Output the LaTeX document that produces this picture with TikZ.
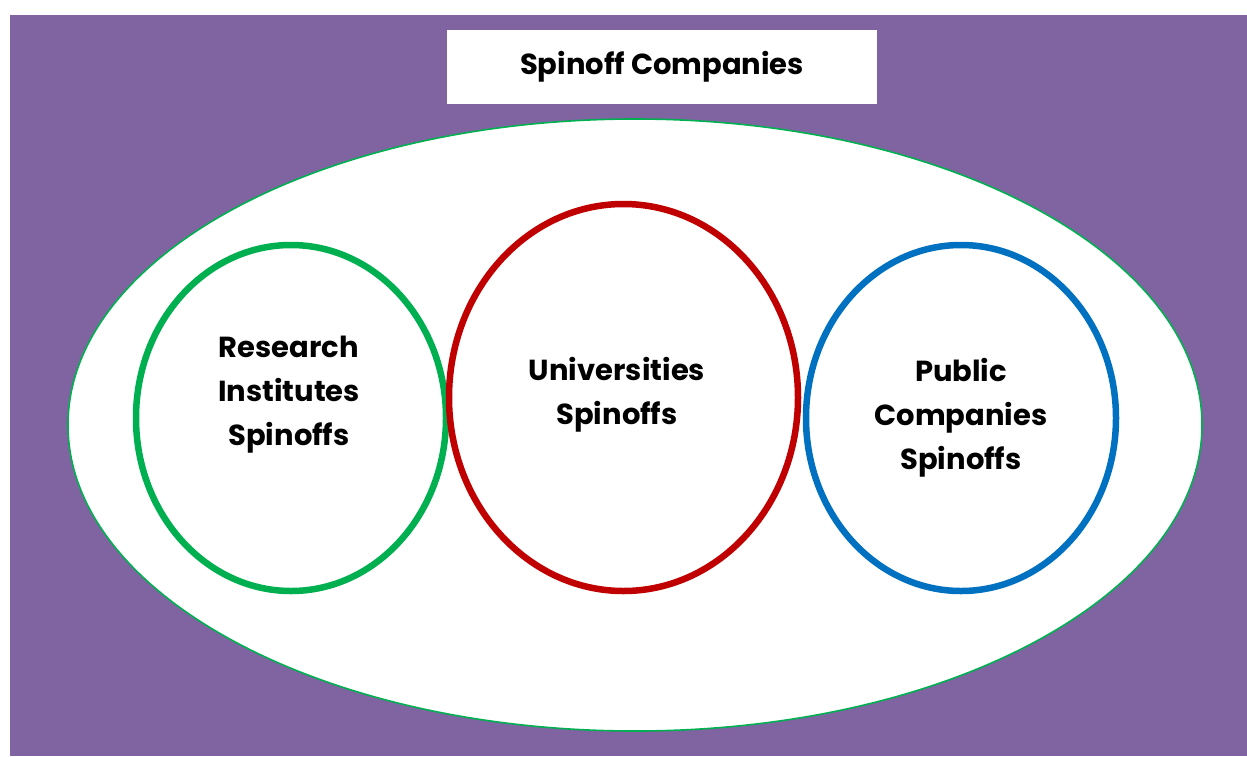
\documentclass[tikz,border=0pt]{standalone}
\usepackage{fontspec}
\setmainfont{Poppins}
\begin{document}
\begin{tikzpicture}[x=1pt,y=-1pt,
  bg/.style={fill=purpleback,draw=none},
  titlebox/.style={fill=white,draw=none,minimum width=430pt,minimum height=74pt,inner sep=0pt,
    font=\fontsize{29}{34}\selectfont\bfseries},
  outer/.style={fill=white,draw=greenline,line width=1.6pt},
  ring/.style={line width=6.5pt},
  lbl/.style={align=center,font=\fontsize{29}{44}\selectfont\bfseries,inner sep=0pt}]
\definecolor{purpleback}{HTML}{8064A2}
\definecolor{greenline}{HTML}{00B050}
\definecolor{redline}{HTML}{C00000}
\definecolor{blueline}{HTML}{0070C0}
\useasboundingbox (0,0) rectangle (1247,756);
\fill[bg] (10,15) rectangle (1247,756);
\node[titlebox] (title) at (662,67) {Spinoff Companies};
\draw[outer] (635,425) ellipse [x radius=567, y radius=306];
\draw[ring,draw=greenline] (291,418) ellipse [x radius=155, y radius=173];
\draw[ring,draw=redline] (623.5,397.5) ellipse [x radius=174.5, y radius=193.5];
\draw[ring,draw=blueline] (961,418) ellipse [x radius=155, y radius=173];
\node[lbl] (research) at (289,395) {Research\\Institutes\\Spinoffs};
\node[lbl] (univ) at (617,395) {Universities\\Spinoffs};
\node[lbl] (public) at (961,418) {Public\\Companies\\Spinoffs};
\end{tikzpicture}
\end{document}
